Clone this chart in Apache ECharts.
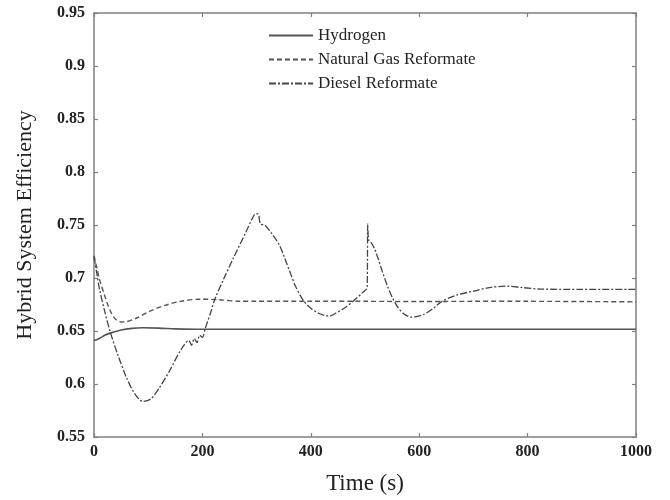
<!DOCTYPE html>
<html>
<head>
<meta charset="utf-8">
<script src="https://cdn.jsdelivr.net/npm/echarts@6/dist/echarts.min.js"></script>
<style>
  html, body { margin: 0; padding: 0; background: #fff; }
  #chart { width: 670px; height: 500px; }
</style>
</head>
<body>
<div id="chart"></div>
<script>
// values
const hydrogenTime = [0, 10, 20, 30, 50, 70, 90, 120, 150, 200, 300, 500, 700, 1000];
const hydrogenEff  = [0.641, 0.643, 0.646, 0.648, 0.651, 0.6525, 0.653, 0.6527, 0.652, 0.6516, 0.6517, 0.6517, 0.6517, 0.6517];

const gasTime = [0, 5, 10, 20, 30, 40, 50, 60, 80, 100, 130, 160, 196, 230, 270, 300, 400, 500, 600, 700, 800, 900, 1000];
const gasEff  = [0.721, 0.71, 0.699, 0.683, 0.669, 0.661, 0.6585, 0.6588, 0.6625, 0.668, 0.674, 0.678, 0.680, 0.6795, 0.678, 0.678, 0.678, 0.678, 0.6778, 0.678, 0.678, 0.6778, 0.6775];

const dieselTime = [0, 5, 10, 20, 30, 45, 60, 75, 90, 105, 120, 140, 160, 175, 180, 185, 190, 195, 200, 205, 215, 223, 240, 257, 280, 292, 298, 303, 307, 315, 330, 342, 352, 362, 372, 386, 400, 415, 425, 434, 445, 460, 478, 495, 504, 505, 507, 512, 518, 524, 532, 541, 551, 561, 571, 580, 587, 597, 610, 625, 642, 670, 700, 730, 762, 790, 823, 900, 1000];
const dieselEff  = [0.72, 0.705, 0.69, 0.668, 0.649, 0.626, 0.606, 0.591, 0.5836, 0.586, 0.596, 0.613, 0.632, 0.641, 0.6365, 0.643, 0.639, 0.646, 0.644, 0.652, 0.667, 0.68, 0.70, 0.7186, 0.743, 0.756, 0.7605, 0.7605, 0.751, 0.750, 0.7405, 0.731, 0.7186, 0.705, 0.692, 0.679, 0.6715, 0.6665, 0.6648, 0.664, 0.6665, 0.671, 0.678, 0.686, 0.691, 0.751, 0.735, 0.733, 0.727, 0.7186, 0.706, 0.693, 0.681, 0.672, 0.6665, 0.6637, 0.663, 0.6637, 0.666, 0.671, 0.678, 0.684, 0.6876, 0.691, 0.6923, 0.691, 0.6895, 0.6893, 0.6893];

const xTicks = [0, 200, 400, 600, 800, 1000];
const yTicks = [0.55, 0.6, 0.65, 0.7, 0.75, 0.8, 0.85, 0.9, 0.95];

function pairs(xs, ys) {
  return xs.map((x, i) => [x, ys[i]]);
}

const chart = echarts.init(document.getElementById('chart'));
const serif = '"Liberation Serif", "DejaVu Serif", serif';
const axisColor = '#808080';

const baseAxis = {
  axisLine: { show: true, onZero: false, lineStyle: { color: axisColor, width: 1.5 } },
  axisTick: { show: true, inside: true, length: 4, lineStyle: { color: axisColor, width: 1.2 } },
  splitLine: { show: false }
};

chart.setOption({
  animation: false,
  backgroundColor: '#fff',
  grid: { left: 94, right: 34, top: 13, bottom: 60 },
  legend: {
    orient: 'vertical',
    left: 263,
    top: 22,
    itemWidth: 44,
    itemHeight: 14,
    itemGap: 7,
    itemStyle: { opacity: 0 },
    textStyle: { fontFamily: serif, fontSize: 17, color: '#222' },
    data: ['Hydrogen', 'Natural Gas Reformate', 'Diesel Reformate']
  },
  xAxis: [
    Object.assign({}, baseAxis, {
      type: 'value', min: xTicks[0], max: xTicks[xTicks.length - 1], interval: 200,
      position: 'bottom',
      name: 'Time (s)', nameLocation: 'middle', nameGap: 35,
      nameTextStyle: { fontFamily: serif, fontSize: 23, color: '#222' },
      axisLabel: { fontFamily: serif, fontSize: 16, fontWeight: 'bold', color: '#222', margin: 7,
        formatter: v => String(v) }
    }),
    Object.assign({}, baseAxis, {
      type: 'value', min: xTicks[0], max: xTicks[xTicks.length - 1], interval: 200,
      position: 'top', axisLabel: { show: false }
    })
  ],
  yAxis: [
    Object.assign({}, baseAxis, {
      type: 'value', min: yTicks[0], max: yTicks[yTicks.length - 1], interval: 0.05,
      position: 'left',
      name: 'Hybrid System Efficiency', nameLocation: 'middle', nameGap: 58,
      nameTextStyle: { fontFamily: serif, fontSize: 22, color: '#222' },
      axisLabel: { fontFamily: serif, fontSize: 16, fontWeight: 'bold', color: '#222', margin: 9,
        formatter: v => String(+v.toFixed(2)) }
    }),
    Object.assign({}, baseAxis, {
      type: 'value', min: yTicks[0], max: yTicks[yTicks.length - 1], interval: 0.05,
      position: 'right', axisLabel: { show: false }
    })
  ],
  series: [
    {
      name: 'Hydrogen', type: 'line', symbol: 'none', smooth: 0.3,
      data: pairs(hydrogenTime, hydrogenEff),
      lineStyle: { color: '#555', width: 1.6, type: 'solid' },
      itemStyle: { color: '#555' }
    },
    {
      name: 'Natural Gas Reformate', type: 'line', symbol: 'none', smooth: 0.3,
      data: pairs(gasTime, gasEff),
      lineStyle: { color: '#555', width: 1.4, type: [5, 3] },
      itemStyle: { color: '#555' }
    },
    {
      name: 'Diesel Reformate', type: 'line', symbol: 'none', smooth: 0.3,
      data: pairs(dieselTime, dieselEff),
      lineStyle: { color: '#444', width: 1.3, type: [7, 2, 2, 2] },
      itemStyle: { color: '#444' }
    }
  ]
});
</script>
</body>
</html>
